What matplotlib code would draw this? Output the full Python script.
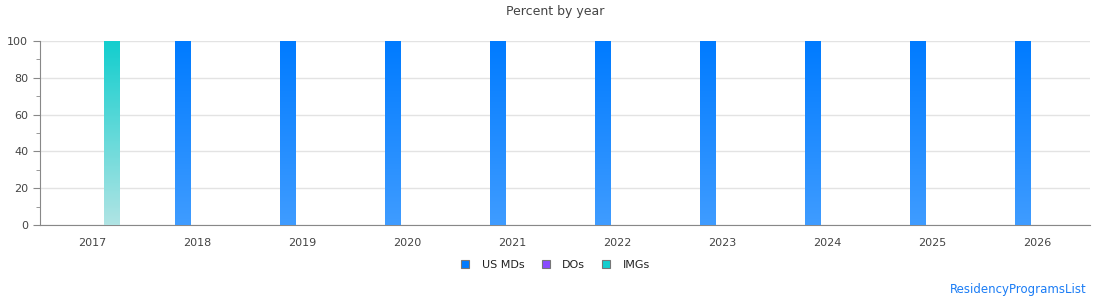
import matplotlib
matplotlib.use("Agg")
import matplotlib.pyplot as plt
import numpy as np
from matplotlib.colors import LinearSegmentedColormap
from matplotlib.lines import Line2D

years = ["2017", "2018", "2019", "2020", "2021", "2022", "2023", "2024", "2025", "2026"]
us_mds = [0, 100, 100, 100, 100, 100, 100, 100, 100, 100]
dos = [0, 0, 0, 0, 0, 0, 0, 0, 0, 0]
imgs = [100, 0, 0, 0, 0, 0, 0, 0, 0, 0]

series = [
    ("US MDs", us_mds, "#007bff", "#3f9cff"),
    ("DOs", dos, "#8a4bff", "#b58cff"),
    ("IMGs", imgs, "#13cece", "#b0e4e4"),
]

fig = plt.figure(figsize=(11.1, 3.0), dpi=100)
ax = fig.add_axes([40 / 1110, 1 - 225 / 300, 1050 / 1110, 184 / 300])

x = np.arange(len(years))
offsets = [-15 / 105, 2 / 105, 19 / 105]
width = 16 / 105

for (name, vals, top, bottom), off in zip(series, offsets):
    bars = ax.bar(x + off, vals, width=width, color="none", edgecolor="none", zorder=3)
    cmap = LinearSegmentedColormap.from_list(name, [bottom, top])
    grad = np.linspace(0, 1, 256).reshape(-1, 1)
    for b, v in zip(bars, vals):
        if v <= 0:
            continue
        x0 = b.get_x()
        im = ax.imshow(grad, cmap=cmap, aspect="auto", origin="lower",
                       extent=[x0, x0 + b.get_width(), 0, v], zorder=3)
        im.set_clip_path(b)

ax.set_xlim(-0.5, len(years) - 0.5)
ax.set_ylim(0, 100)
ax.set_xticks(x)
ax.set_xticklabels(years)
ax.set_yticks([0, 20, 40, 60, 80, 100])
ax.set_yticks([10, 30, 50, 70, 90], minor=True)
ax.tick_params(axis="x", length=0, pad=9, labelsize=8, colors="#444444")
ax.tick_params(axis="y", which="major", length=5, labelsize=8, colors="#444444")
ax.tick_params(axis="y", which="minor", length=3, color="#888888")
ax.tick_params(axis="y", which="major", color="#888888")
ax.grid(axis="y", color="#e3e3e3", linewidth=1, zorder=0)
ax.set_axisbelow(True)
for s in ["top", "right"]:
    ax.spines[s].set_visible(False)
for s in ["left", "bottom"]:
    ax.spines[s].set_color("#888888")

fig.text(0.5, 1 - 12 / 300, "Percent by year", ha="center", va="center",
         fontsize=9, color="#444444")

handles = [Line2D([], [], marker="s", linestyle="none", markersize=6,
                  markerfacecolor=top, markeredgecolor="#777777", markeredgewidth=0.8)
           for _, _, top, _ in series]
fig.legend(handles, [s[0] for s in series], loc="center", ncol=3,
           bbox_to_anchor=(0.5, 1 - 265 / 300), frameon=False, fontsize=8,
           handlelength=1.0, handletextpad=1.0, columnspacing=1.4, labelcolor="#222222")

fig.text(1087 / 1110, 1 - 290 / 300, "ResidencyProgramsList", ha="right", va="center",
         fontsize=8.5, color="#1a7cf5")

fig.savefig("out.png", dpi=100)
